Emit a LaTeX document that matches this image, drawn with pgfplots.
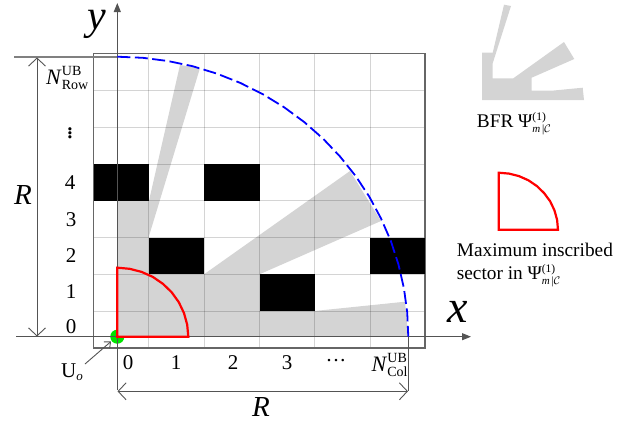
\documentclass[border=0pt]{standalone}
\usepackage{fontspec}
\setmainfont{Liberation Serif}
\usepackage{pgfplots}
\pgfplotsset{compat=1.18}
\usetikzlibrary{arrows.meta}
\definecolor{bfr}{gray}{0.83}
\definecolor{axisgray}{gray}{0.33}
\newcommand{\fs}[1]{\fontsize{#1}{#1}\selectfont}
\newcommand{\Bfr}{\textup{Ψ}\rlap{\raisebox{6.5pt}{\fs{11.5}(1)}}\raisebox{-5pt}{\fs{11}\textit{m}\,|$\mathcal{C}$}}
\pgfplotsset{
 gridl/.style={draw=black,draw opacity=0.17,line width=0.8pt},
 blackbox/.style={fill=black,draw=none},
 dim/.style={axisgray,line width=0.9pt},
}
\tikzset{lbl/.style={font=\fs{21},inner sep=0pt}}
\begin{document}
\begin{tikzpicture}
\useasboundingbox (0,0) rectangle (630pt,423pt);
\begin{axis}[scale only axis,width=630pt,height=423pt,xmin=0,xmax=630,ymin=0,ymax=423,y dir=reverse,axis lines=none,clip=false]
% origin
\addplot[fill=green!90!black,draw=none] coordinates {(124.3,336.7)(123.8,339.4)(122.3,341.7)(120,343.2)(117.3,343.7)(114.6,343.2)(112.3,341.7)(110.8,339.4)(110.3,336.7)(110.8,334)(112.3,331.7)(114.6,330.2)(117.3,329.7)(120,330.2)(122.3,331.7)(123.8,334)} --cycle;
% BFR region
\addplot[fill=bfr,draw=none] coordinates {(117.3,336.7)(408.3,336.7)(405,301.7)(314.5,311)(259.5,311)(259.5,274.3)(381,221)(350,171)(204,274.3)(148.5,274.3)(148.5,237.7)(200,68)(180,65)(149,200.7)(117.3,200.7)} --cycle;
% grid
\addplot[gridl] coordinates {(148.5,53.5)(148.5,348)};
\addplot[gridl] coordinates {(204,53.5)(204,348)};
\addplot[gridl] coordinates {(259.5,53.5)(259.5,348)};
\addplot[gridl] coordinates {(314.5,53.5)(314.5,348)};
\addplot[gridl] coordinates {(370,53.5)(370,348)};
\addplot[gridl] coordinates {(93.5,90)(425,90)};
\addplot[gridl] coordinates {(93.5,127.3)(425,127.3)};
\addplot[gridl] coordinates {(93.5,164)(425,164)};
\addplot[gridl] coordinates {(93.5,200.7)(425,200.7)};
\addplot[gridl] coordinates {(93.5,237.7)(425,237.7)};
\addplot[gridl] coordinates {(93.5,274.3)(425,274.3)};
\addplot[gridl] coordinates {(93.5,311)(425,311)};
% frame
\addplot[draw=black!60,line width=1.2pt] coordinates {(93.5,53.5)(425,53.5)(425,348)(93.5,348)} --cycle;
% occupied cells
\addplot[blackbox] coordinates {(93.5,164)(148.5,164)(148.5,200.7)(93.5,200.7)} --cycle;
\addplot[blackbox] coordinates {(204,164)(259.5,164)(259.5,200.7)(204,200.7)} --cycle;
\addplot[blackbox] coordinates {(149,237.7)(204,237.7)(204,274.3)(149,274.3)} --cycle;
\addplot[blackbox] coordinates {(259.5,274.3)(314.5,274.3)(314.5,311)(259.5,311)} --cycle;
\addplot[blackbox] coordinates {(370,237.7)(425,237.7)(425,274.3)(370,274.3)} --cycle;
% axes
\addplot[dim,-{Triangle[length=9pt,width=7pt]}] coordinates {(117.3,390)(117.3,3)};
\addplot[dim,-{Triangle[length=9pt,width=7pt]}] coordinates {(16,336.7)(471,336.7)};
\addplot[draw=black!50,line width=1.6pt] coordinates {(14,57)(117.3,57)};
\addplot[dim] coordinates {(408.3,336.7)(408.3,391)};
\addplot[dim,{Straight Barb[length=8pt,width=17pt]}-{Straight Barb[length=8pt,width=17pt]}] coordinates {(37,57.5)(37,336.5)};
\addplot[dim,{Straight Barb[length=8pt,width=17pt]}-{Straight Barb[length=8pt,width=17pt]}] coordinates {(117.5,391.3)(408,391.3)};
\addplot[dim,-{Straight Barb[length=5pt,width=9pt]}] coordinates {(85,364)(111,341.5)};
% blue arc
\addplot[blue,line width=1.8pt,dash pattern=on 13pt off 4.5pt] coordinates {(117.3,56.7)(142.7,57.8)(167.8,61)(192.6,66.2)(216.8,73.6)(240.3,82.9)(262.8,94.2)(284.2,107.3)(304.4,122.2)(323.1,138.7)(340.2,156.7)(355.7,176.1)(369.3,196.7)(381,218.4)(390.8,240.9)(398.4,264.2)(403.9,288.1)(407.2,312.3)(408.3,336.7)};
% inscribed sector
\addplot[red,line width=2.2pt,line join=miter] coordinates {(117.3,336.7)(188.3,336.7)(187.2,324.7)(184,313.1)(178.8,302.2)(171.7,292.3)(162.9,283.8)(152.8,276.9)(141.6,271.9)(129.6,268.8)(117.3,267.7)} --cycle;
% legend glyphs
\addplot[fill=bfr,draw=none] coordinates {(482,100)(584,100)(582.7,87.7)(551.7,90.7)(531.7,90.7)(531.7,77.7)(574.3,59)(564,42)(513.3,78.3)(492.7,78.3)(492.7,63.3)(511,6)(504,4.7)(492.7,52.7)(482,52.7)} --cycle;
\addplot[red,line width=2.2pt,line join=miter] coordinates {(498.7,229.7)(558,229.7)(557.1,219.8)(554.4,210.2)(550.1,201.2)(544.1,193.1)(536.8,186)(528.4,180.3)(519,176.1)(509,173.6)(498.7,172.7)} --cycle;
% row labels
\node[lbl] at (axis cs:71,327) {0};
\node[lbl] at (axis cs:71,292) {1};
\node[lbl] at (axis cs:71,256) {2};
\node[lbl] at (axis cs:71,220) {3};
\node[lbl] at (axis cs:70,182.7) {4};
\node[font=\fs{27},inner sep=0pt] at (axis cs:70,130) {$\vdots$};
\node[font=\fs{22},inner sep=0pt,anchor=base west] at (axis cs:46,84) {\textit{N}\rlap{\raisebox{9pt}{\fs{14}UB}}\raisebox{-5.5pt}{\fs{14}Row}};
% column labels
\node[lbl] at (axis cs:128,363) {0};
\node[lbl] at (axis cs:176,363) {1};
\node[lbl] at (axis cs:233,363) {2};
\node[lbl] at (axis cs:287,363) {3};
\node[lbl] at (axis cs:336,363) {···};
\node[font=\fs{22},inner sep=0pt,anchor=base west] at (axis cs:371.5,371) {\textit{N}\rlap{\raisebox{9pt}{\fs{14}UB}}\raisebox{-5.5pt}{\fs{14}Col}};
% axis names
\node[font=\fs{42}\itshape,inner sep=0pt] at (axis cs:97,24) {y};
\node[font=\fs{46}\itshape,inner sep=0pt] at (axis cs:458,312) {x};
\node[font=\fs{29}\itshape,inner sep=0pt] at (axis cs:23,195) {R};
\node[font=\fs{29}\itshape,inner sep=0pt] at (axis cs:261,407) {R};
\node[lbl,anchor=base west] at (axis cs:61,377) {U\raisebox{-3pt}{\fs{13}\textit{o}}};
% legend text
\node[font=\fs{19.3},inner sep=0pt,anchor=base west] at (axis cs:476.7,127) {BFR\ \Bfr};
\node[font=\fs{19.3},inner sep=0pt,anchor=base west] at (axis cs:456.7,256) {Maximum inscribed};
\node[font=\fs{19.3},inner sep=0pt,anchor=base west] at (axis cs:456.7,279.3) {sector in\ \Bfr};
\end{axis}
\end{tikzpicture}
\end{document}
